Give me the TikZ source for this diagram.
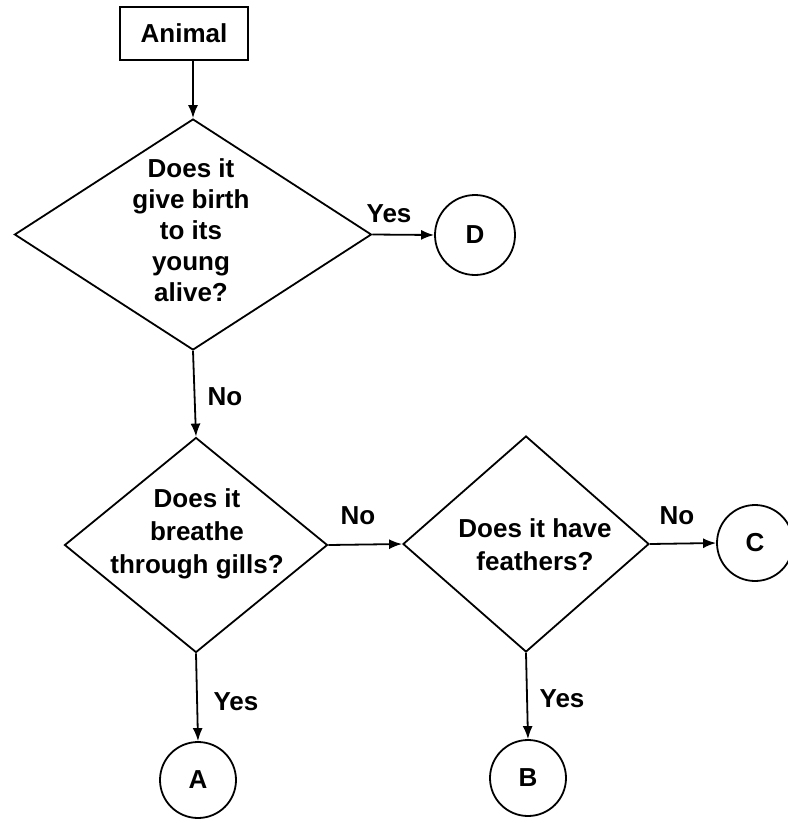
\documentclass[tikz,border=0pt]{standalone}
\usepackage{fontspec}
\setmainfont{Liberation Sans}
\usetikzlibrary{shapes.geometric,arrows.meta}
\tikzset{
  base/.style={line width=1.8pt},
  boxnode/.style={base,draw,rectangle,minimum width=128pt,minimum height=53pt,inner sep=0pt,font=\fontsize{26}{30}\selectfont\bfseries},
  dia/.style={base,draw,diamond,inner sep=0pt},
  txt/.style={align=center,inner sep=0pt,font=\fontsize{26}{31}\selectfont\bfseries},
  txtb/.style={align=center,inner sep=0pt,font=\fontsize{26}{33}\selectfont\bfseries},
  circ/.style={base,draw,circle,minimum size=76pt,inner sep=0pt,font=\fontsize{26}{30}\selectfont\bfseries},
  lbl/.style={inner sep=0pt,font=\fontsize{26}{30}\selectfont\bfseries},
  arr/.style={base,-{Latex[length=13pt,width=10pt]}}
}
\begin{document}
\begin{tikzpicture}[x=1pt,y=-1pt]
\useasboundingbox (0,0) rectangle (788,823);
\node[boxnode] (animal) at (184,33.5) {Animal};
\node[dia,minimum width=357pt,minimum height=231pt] (d1) at (193,234.5) {};
\node[txt] (t1) at (191,230) {Does it\\give birth\\to its\\young\\alive?};
\node[circ,minimum size=80pt] (D) at (475,235) {D};
\node[dia,minimum width=263pt,minimum height=215pt] (d2) at (196,545) {};
\node[txtb] (t2) at (197,534) {Does it\\breathe\\through gills?};
\node[dia,minimum width=246pt,minimum height=216pt] (d3) at (526,544) {};
\node[txtb] (t3) at (535,545) {Does it have\\feathers?};
\node[circ] (C) at (755,543) {C};
\node[circ] (A) at (198,780) {A};
\node[circ] (B) at (528,778) {B};

\draw[arr] (animal.south -| d1.north) -- (d1.north);
\draw[arr] (d1.east) -- (D.west);
\draw[arr] (d1.south) -- (d2.north);
\draw[arr] (d2.east) -- (d3.west);
\draw[arr] (d3.east) -- (C.west);
\draw[arr] (d2.south) -- (A.north);
\draw[arr] (d3.south) -- (B.north);

\node[lbl] (l1) at (389,214) {Yes};
\node[lbl] (l2) at (225,397) {No};
\node[lbl] (l3) at (358,516) {No};
\node[lbl] (l4) at (677,516) {No};
\node[lbl] (l5) at (236,702) {Yes};
\node[lbl] (l6) at (562,699) {Yes};
\end{tikzpicture}
\end{document}
